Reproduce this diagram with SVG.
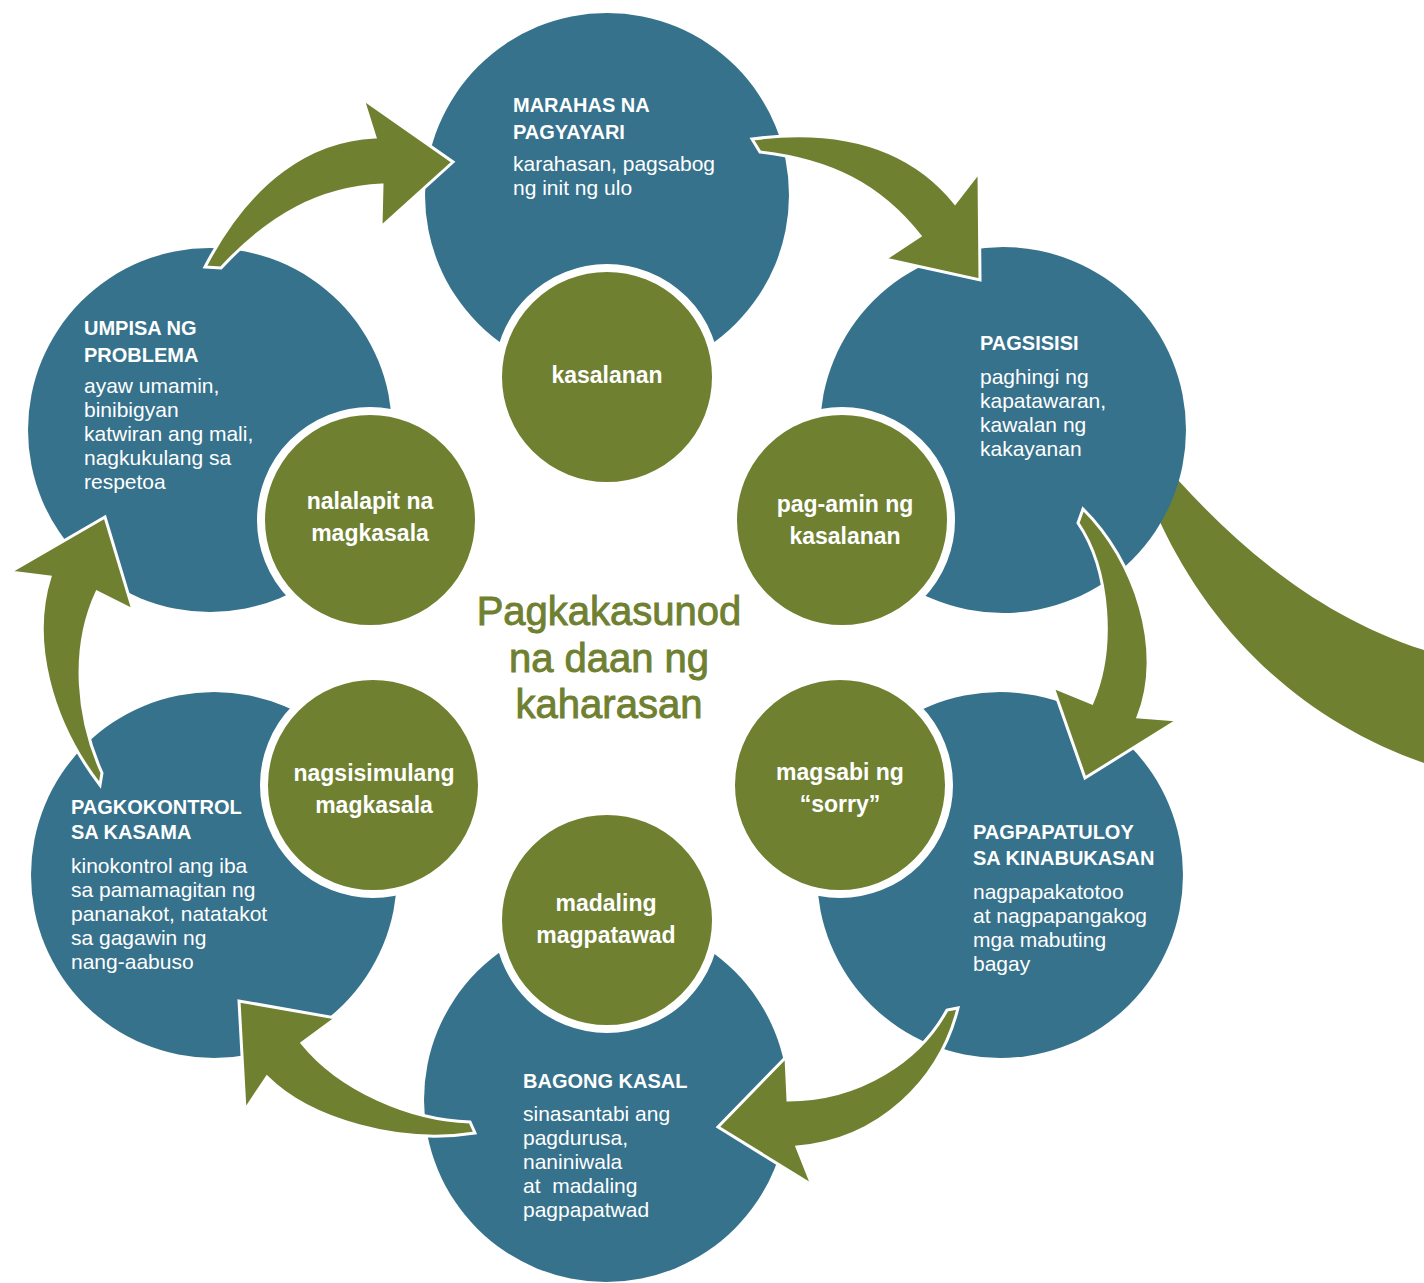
<svg xmlns="http://www.w3.org/2000/svg" width="1424" height="1283" viewBox="0 0 1424 1283">
<style>
.blue{fill:#36728C}
.green{fill:#6F8031;stroke:#fff;stroke-width:8}
.arrow{fill:#6F8031;stroke:#fff;stroke-width:3;stroke-linejoin:miter}
.band{fill:#6F8031}
.h{font-family:"Liberation Sans",Arial,sans-serif;font-weight:bold;font-size:20px;fill:#fff}
.b{font-family:"Liberation Sans",Arial,sans-serif;font-size:21px;fill:#fff}
.g{font-family:"Liberation Sans",Arial,sans-serif;font-weight:bold;font-size:23px;fill:#fff;text-anchor:middle}
.t{font-family:"Liberation Sans",Arial,sans-serif;font-size:40px;fill:#6F8031;stroke:#6F8031;stroke-width:0.9;text-anchor:middle}
</style>
<rect width="1424" height="1283" fill="#fff"/>
<path class="band" d="M1140,440 L1178,480 C1240,548 1320,618 1430,652 L1430,765 C1310,725 1215,640 1160,522 L1130,480 Z"/>
<g id="node-marahas"><circle class="blue" cx="607" cy="195" r="182"/>
<text class="h" x="513" y="112">MARAHAS NA</text><text class="h" x="513" y="139">PAGYAYARI</text>
<text class="b" x="513" y="171">karahasan, pagsabog</text><text class="b" x="513" y="195">ng init ng ulo</text></g>
<g id="node-pagsisisi"><circle class="blue" cx="1003" cy="430" r="183"/>
<text class="h" x="980" y="350">PAGSISISI</text>
<text class="b" x="980" y="384">paghingi ng</text><text class="b" x="980" y="408">kapatawaran,</text><text class="b" x="980" y="432">kawalan ng</text><text class="b" x="980" y="456">kakayanan</text></g>
<g id="node-pagpapatuloy"><circle class="blue" cx="1000" cy="875" r="183"/>
<text class="h" x="973" y="839">PAGPAPATULOY</text><text class="h" x="973" y="865">SA KINABUKASAN</text>
<text class="b" x="973" y="899">nagpapakatotoo</text><text class="b" x="973" y="923">at nagpapangakog</text><text class="b" x="973" y="947">mga mabuting</text><text class="b" x="973" y="971">bagay</text></g>
<g id="node-bagong"><circle class="blue" cx="606" cy="1100" r="182"/>
<text class="h" x="523" y="1088">BAGONG KASAL</text>
<text class="b" x="523" y="1121">sinasantabi ang</text><text class="b" x="523" y="1145">pagdurusa,</text><text class="b" x="523" y="1169">naniniwala</text><text class="b" x="523" y="1193" xml:space="preserve">at  madaling</text><text class="b" x="523" y="1217">pagpapatwad</text></g>
<g id="node-pagkokontrol"><circle class="blue" cx="214" cy="875" r="183"/>
<text class="h" x="71" y="814">PAGKOKONTROL</text><text class="h" x="71" y="839">SA KASAMA</text>
<text class="b" x="71" y="873">kinokontrol ang iba</text><text class="b" x="71" y="897">sa pamamagitan ng</text><text class="b" x="71" y="921">pananakot, natatakot</text><text class="b" x="71" y="945">sa gagawin ng</text><text class="b" x="71" y="969">nang-aabuso</text></g>
<g id="node-umpisa"><circle class="blue" cx="210" cy="430" r="182"/>
<text class="h" x="84" y="335">UMPISA NG</text><text class="h" x="84" y="362">PROBLEMA</text>
<text class="b" x="84" y="393">ayaw umamin,</text><text class="b" x="84" y="417">binibigyan</text><text class="b" x="84" y="441">katwiran ang mali,</text><text class="b" x="84" y="465">nagkukulang sa</text><text class="b" x="84" y="489">respetoa</text></g>
<g id="node-kasalanan"><circle class="green" cx="607" cy="377" r="109"/><text class="g" x="607" y="383">kasalanan</text></g>
<g id="node-pagamin"><circle class="green" cx="842" cy="520" r="109"/><text class="g" x="845" y="512">pag-amin ng</text><text class="g" x="845" y="544">kasalanan</text></g>
<g id="node-magsabi"><circle class="green" cx="840" cy="785" r="109"/><text class="g" x="840" y="780">magsabi ng</text><text class="g" x="840" y="812">“sorry”</text></g>
<g id="node-madaling"><circle class="green" cx="607" cy="920" r="109"/><text class="g" x="606" y="911">madaling</text><text class="g" x="606" y="943">magpatawad</text></g>
<g id="node-nagsisimulang"><circle class="green" cx="373" cy="785" r="109"/><text class="g" x="374" y="781">nagsisimulang</text><text class="g" x="374" y="813">magkasala</text></g>
<g id="node-nalalapit"><circle class="green" cx="370" cy="520" r="109"/><text class="g" x="370" y="509">nalalapit na</text><text class="g" x="370" y="541">magkasala</text></g>
<g id="title"><text class="t" x="609" y="625">Pagkakasunod</text><text class="t" x="609" y="672">na daan ng</text><text class="t" x="609" y="718">kaharasan</text></g>
<g id="connectors">
<path class="arrow" d="M205,267 L221,268 C270,215 320,188 382,185 L381,227 L453,162 L363,99 L375,137 C310,140 250,180 205,267 Z"/>
<path class="arrow" d="M752,139 L760,152 C830,160 880,185 920,236 L885,259 L980,280 L979,172 L955,203 C920,160 860,125 752,139 Z"/>
<path class="arrow" d="M1083,509 C1135,560 1165,650 1138,717 L1178,720 L1085,778 L1053,687 L1092,703 C1115,650 1110,570 1078,523 Z"/>
<path class="arrow" d="M958,1008 C940,1080 880,1140 797,1147 L812,1185 L718,1127 L786,1057 L788,1100 C860,1100 920,1060 947,1010 Z"/>
<path class="arrow" d="M475,1133 C400,1145 310,1120 267,1077 L245,1110 L239,1001 L336,1018 L302,1043 C340,1090 410,1120 470,1122 Z"/>
<path class="arrow" d="M100,785 C50,720 30,640 50,577 L10,572 L105,517 L133,610 L97,592 C70,650 78,720 102,773 Z"/>
</g>
</svg>
